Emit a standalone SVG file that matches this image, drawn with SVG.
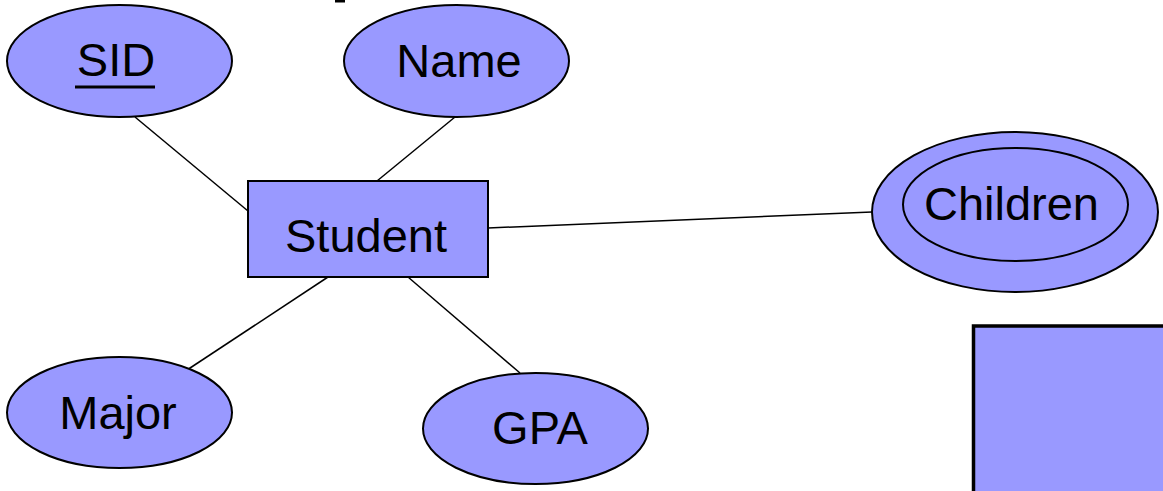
<svg xmlns="http://www.w3.org/2000/svg" width="1163" height="491" viewBox="0 0 1163 491">
  <style>
    .shape { fill: #9999ff; stroke: #000; stroke-width: 2; }
    .label { font-family: "Liberation Sans", Arial, sans-serif; font-size: 47px; fill: #000; text-anchor: middle; }
    .edge { stroke: #000; stroke-width: 1.5; fill: none; }
  </style>
  <rect width="1163" height="491" fill="#fff"/>

  <!-- small fragment at the top edge -->
  <rect x="335" y="0" width="10" height="2.5" fill="#000"/>

  <g id="connectors">
    <line class="edge" x1="135" y1="117" x2="248" y2="211"/>
    <line class="edge" x1="455" y1="117" x2="377" y2="181"/>
    <line class="edge" x1="488" y1="228" x2="872" y2="212"/>
    <line class="edge" x1="328" y1="277" x2="184" y2="372"/>
    <line class="edge" x1="408" y1="277" x2="520" y2="373"/>
  </g>

  <g id="sid">
    <ellipse class="shape" cx="119.5" cy="61" rx="112.5" ry="56"/>
    <text class="label" x="116" y="76">SID</text>
    <line x1="75" y1="87" x2="155" y2="87" stroke="#000" stroke-width="3"/>
  </g>

  <g id="name">
    <ellipse class="shape" cx="456.5" cy="61" rx="112.5" ry="56"/>
    <text class="label" x="459" y="77">Name</text>
  </g>

  <g id="student">
    <rect class="shape" x="248" y="181" width="240" height="96"/>
    <text class="label" x="366" y="252">Student</text>
  </g>

  <g id="children">
    <ellipse class="shape" cx="1015" cy="212" rx="143" ry="80"/>
    <ellipse class="shape" cx="1015.5" cy="204.5" rx="112.5" ry="56.5"/>
    <text class="label" x="1011.5" y="220">Children</text>
  </g>

  <g id="major">
    <ellipse class="shape" cx="119.5" cy="412.5" rx="112.5" ry="55.5"/>
    <text class="label" x="118" y="429">Major</text>
  </g>

  <g id="gpa">
    <ellipse class="shape" cx="535.5" cy="428.5" rx="112.5" ry="55.5"/>
    <text class="label" x="540" y="444">GPA</text>
  </g>

  <g id="box">
    <rect x="973.5" y="326" width="200" height="180" fill="#9999ff" stroke="#000" stroke-width="3.5"/>
  </g>
</svg>
